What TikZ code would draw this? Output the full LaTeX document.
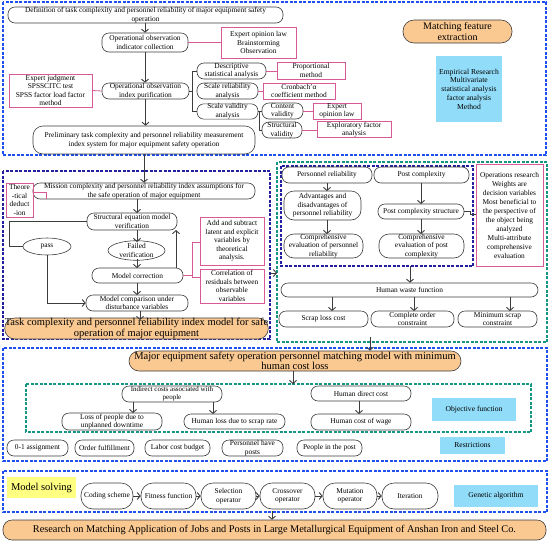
\documentclass[tikz,border=0pt]{standalone}
\usepackage{fontspec}
\setmainfont{Liberation Serif}
\usetikzlibrary{arrows.meta,shapes.geometric}
\definecolor{bl}{RGB}{30,80,240}
\definecolor{nv}{RGB}{35,30,160}
\definecolor{tl}{RGB}{20,150,130}
\definecolor{pk}{RGB}{215,90,150}
\definecolor{org}{RGB}{250,200,145}
\definecolor{cy}{RGB}{145,220,248}
\definecolor{yl}{RGB}{255,255,130}
\definecolor{ln}{RGB}{60,60,60}
\tikzset{
 sm/.style={font=\fontsize{7.4}{8.6}\selectfont},
 rnd/.style={draw=ln, line width=0.6pt, rounded corners=7pt, align=center, inner sep=0pt, sm},
 pill/.style={rnd, rounded corners=12pt},
 pbox/.style={draw=pk, line width=0.8pt, align=center, inner sep=0pt, sm},
 ell/.style={draw=ln, ellipse, line width=0.6pt, align=center, inner sep=0pt, sm},
 obox/.style={draw=ln, line width=0.6pt, fill=org, rounded corners=9pt, align=center, inner sep=0pt, font=\fontsize{10.5}{12}\selectfont},
 cbox/.style={fill=cy, align=center, inner sep=0pt, font=\fontsize{7.6}{8.7}\selectfont},
 ybox/.style={fill=yl, align=center, inner sep=0pt, font=\fontsize{10.5}{12}\selectfont},
 arr/.style={draw=ln, line width=0.9pt, -{Straight Barb[length=3pt,width=7pt]}},
 tree/.style={draw=ln, line width=0.9pt},
 plink/.style={draw=pk, line width=0.8pt},
 bdash/.style={draw=bl, line width=1.3pt, dash pattern=on 3pt off 1.5pt},
 ndash/.style={draw=nv, line width=1.3pt, dash pattern=on 3pt off 1.5pt},
 tdash/.style={draw=tl, line width=1.3pt, dash pattern=on 3pt off 1.5pt},
}
\begin{document}
\begin{tikzpicture}[x=1pt,y=-1pt]
\useasboundingbox (0,0) rectangle (550,542);
% dashed frames
\draw[bdash] (3,2) rectangle (546,155);
\draw[ndash] (3,171) rectangle (270,339);
\draw[tdash] (277,162) rectangle (547,342);
\draw[ndash] (281,166) rectangle (473,266);
\draw[bdash] (3,348) rectangle (547,461);
\draw[tdash] (26,384) rectangle (531,432);
\draw[bdash] (3,471) rectangle (547,512);

% ---- top section
\node[rnd, minimum width=275pt, minimum height=16pt] (def) at (145.5,15) {Definition of task complexity and personnel reliability of major equipment safety\\operation};
\node[rnd, minimum width=86pt, minimum height=19pt] (coll) at (145,42.5) {Operational observation\\indicator collection};
\node[pbox, minimum width=75pt, minimum height=31pt] (expop) at (258.5,42.5) {Expert opinion law\\Brainstorming\\Observation};
\node[rnd, minimum width=87pt, minimum height=16pt] (purif) at (145.5,91) {Operational observation\\index purification};
\node[pbox, minimum width=83pt, minimum height=33pt] (expj) at (50.5,90.5) {Expert judgment\\SPSSCITC test\\SPSS factor load factor\\method};
\node[rnd, minimum width=69pt, minimum height=16pt] (desc) at (231.5,71) {Descriptive\\statistical analysis};
\node[rnd, minimum width=61pt, minimum height=16pt] (srel) at (227.5,91) {Scale reliability\\analysis};
\node[rnd, minimum width=61pt, minimum height=15pt] (sval) at (227.5,111.5) {Scale validity\\analysis};
\node[pbox, minimum width=68pt, minimum height=17pt] (prop) at (311,70.5) {Proportional\\method};
\node[pbox, minimum width=72pt, minimum height=16pt] (cron) at (299,91) {Cronbach'α\\coefficient method};
\node[rnd, minimum width=41pt, minimum height=16pt] (cval) at (282.5,111) {Content\\validity};
\node[rnd, minimum width=40pt, minimum height=16pt] (stval) at (282,130) {Structural\\validity};
\node[pbox, minimum width=48pt, minimum height=16pt] (expop2) at (337,111) {Expert\\opinion law};
\node[pbox, minimum width=74pt, minimum height=15pt] (expfa) at (354,129.5) {Exploratory factor\\analysis};
\node[rnd, rounded corners=10pt, minimum width=222pt, minimum height=28pt] (prelim) at (144,140) {Preliminary task complexity and personnel reliability measurement\\index system for major equipment safety operation};
\node[obox, rounded corners=11pt, minimum width=109pt, minimum height=23pt, font=\fontsize{10}{11.5}\selectfont] (mfe) at (457.5,31.5) {Matching feature\\extraction};
\node[cbox, minimum width=66pt, minimum height=66pt] (emp) at (469,89) {Empirical Research\\Multivariate\\statistical analysis\\factor analysis\\Method};

\draw[arr] (def.south -| coll.north) -- (coll.north);
\draw[arr] (coll.south) -- (coll.south |- purif.north);
\draw[arr] (purif.south) -- (purif.south |- prelim.north);
\draw[plink] (coll.east) -- (expop.west |- coll.east);
\draw[plink] (expj.east) -- (purif.west);
\coordinate (t1) at (192,91);
\draw[tree] (purif.east) -- (t1);
\draw[tree] (desc.west) -| (192,71) |- (sval.west);
\draw[plink] (desc.east) -- (prop.west |- desc.east);
\draw[plink] (srel.east) -- (cron.west |- srel.east);
\draw[tree] (sval.east) -- (cval.west |- sval.east);
\coordinate (t2) at (259.5,111.5);
\draw[tree] (t2) |- (stval.west);
\draw[plink] (cval.east) -- (expop2.west |- cval.east);
\draw[plink] (stval.east) -- (expfa.west |- stval.east);

% ---- left middle section
\node[rnd, minimum width=222pt, minimum height=16pt] (miss) at (144,191) {Mission complexity and personnel reliability index assumptions for\\the safe operation of major equipment};
\node[pbox, minimum width=27pt, minimum height=34pt] (theo) at (19.5,200) {Theore\\-tical\\deduct\\-ion};
\node[rnd, minimum width=90pt, minimum height=17pt] (sem) at (132,221.5) {Structural equation model\\verification};
\node[ell, minimum width=57pt, minimum height=17pt] (fail) at (136.5,250.5) {Failed\\verification};
\node[rnd, minimum width=91pt, minimum height=15pt] (mcor) at (137.5,275.5) {Model correction};
\node[ell, minimum width=48pt, minimum height=17pt] (pass) at (47,246.5) {pass};
\node[rnd, minimum width=102pt, minimum height=16pt] (mcomp) at (137,303) {Model comparison under\\disturbance variables};
\node[pbox, minimum width=64pt, minimum height=48pt] (addsub) at (232,241) {Add and subtract\\latent and explicit\\variables by\\theoretical\\analysis.};
\node[pbox, minimum width=64pt, minimum height=34pt] (corr) at (232,286) {Correlation of\\residuals between\\observable\\variables};
\node[obox, rounded corners=10pt, minimum width=263pt, minimum height=21pt, font=\fontsize{10.5}{10.5}\selectfont] (tcm) at (136.5,328.5) {Task complexity and personnel reliability index model for safe\\operation of major equipment};

\draw[arr] (prelim.south) -- (prelim.south |- miss.north);
\draw[arr] (137,199) -- (137,213);
\draw[arr] (137,230) -- (137,242);
\draw[arr] (137,259) -- (137,268);
\draw[arr] (176,268) -- (176,230);
\draw[arr] (137,283) -- (137,295);
\draw[arr] (140,311) -- (140,320);
\draw[tree] (sem.west) -- (9,221.5) -- (9,246.5) -- (pass.west);
\draw[arr] (pass.south) |- (mcomp.west);
\draw[plink] (theo.east |- 0,192) -- (46,192) -- (46,199);
\draw[plink] (mcor.east) -- (192,275.5);
\draw[plink] (addsub.west |- 0,242) -- (192,242) -- (192,277) -- (corr.west |- 0,277);

% connector left -> right box
\coordinate (lb) at (270,273);
\coordinate (rb) at (277,273);
\draw[arr] (lb) -- (rb);

% ---- right middle section
\node[rnd, minimum width=90pt, minimum height=16pt] (pr) at (327,175) {Personnel reliability};
\node[rnd, minimum width=95pt, minimum height=16pt] (pc) at (421.5,175) {Post complexity};
\node[rnd, rounded corners=10pt, minimum width=77pt, minimum height=29pt] (adv) at (322.5,205.5) {Advantages and\\disadvantages of\\personnel reliability};
\node[rnd, rounded corners=10pt, minimum width=79pt, minimum height=24pt] (cep) at (323.5,246) {Comprehensive\\evaluation of personnel\\reliability};
\node[rnd, minimum width=86pt, minimum height=15pt] (pcs) at (421,211.5) {Post complexity structure};
\node[rnd, rounded corners=10pt, minimum width=85pt, minimum height=24pt] (cepc) at (421.5,246) {Comprehensive\\evaluation of post\\complexity};
\node[pbox, minimum width=67pt, minimum height=102pt, font=\fontsize{7.4}{9}\selectfont] (ops) at (509.5,215) {Operations research\\Weights are\\decision variables\\Most beneficial to\\the perspective of\\the object being\\analyzed\\Multi-attribute\\comprehensive\\evaluation};
\node[rnd, minimum width=257pt, minimum height=14pt] (hwf) at (409.5,290) {Human waste function};
\node[rnd, minimum width=89pt, minimum height=16pt] (slc) at (323.5,319) {Scrap loss cost};
\node[rnd, minimum width=83pt, minimum height=16pt] (coc) at (412.5,319) {Complete order\\constraint};
\node[rnd, minimum width=79pt, minimum height=16pt] (msc) at (497.5,319) {Minimum scrap\\constraint};

\draw[arr] (327,183) -- (327,191);
\draw[arr] (327,220) -- (327,234);
\draw[arr] (421,183) -- (421,204);
\draw[arr] (421,219) -- (421,234);
\draw[tree, line width=0.7pt] (pcs.east) -- (470,211.5) -- (470,214) -- (ops.west |- 0,214);
\coordinate (nb) at (410,266);
\draw[arr] (nb) -- (nb |- hwf.north);
\draw[arr] (332,297) -- (332,311);
\draw[arr] (414,297) -- (414,311);
\draw[arr] (510,297) -- (510,311);

% ---- lower section
\node[obox, rounded corners=10pt, minimum width=332pt, minimum height=20pt, font=\fontsize{10.5}{10.5}\selectfont] (mem) at (295,361) {Major equipment safety operation personnel matching model with minimum\\human cost loss};
\coordinate (tb) at (370,337);
\draw[arr] (tb) -- (tb |- mem.north);
\node[rnd, minimum width=100pt, minimum height=16pt, font=\fontsize{7}{8}\selectfont] (ica) at (172,394) {Indirect costs associated with\\people};
\node[rnd, minimum width=100pt, minimum height=17pt] (lpd) at (112,421.5) {Loss of people due to\\unplanned downtime};
\node[rnd, minimum width=101pt, minimum height=15pt] (hls) at (234.5,421.5) {Human loss due to scrap rate};
\node[rnd, minimum width=100pt, minimum height=15pt] (hdc) at (361,393.5) {Human direct cost};
\node[rnd, minimum width=100pt, minimum height=16pt] (hcw) at (361,422) {Human cost of wage};
\node[cbox, minimum width=84pt, minimum height=23pt] (objf) at (474,409.5) {Objective function};
\coordinate (ob) at (293,384);
\draw[arr] (mem.south -| ob) -- (ob);
\draw[arr] (133,402) -- (133,413);
\draw[arr] (213,402) -- (213,414);
\draw[arr] (359,401) -- (359,414);

\node[rnd, minimum width=61pt, minimum height=16pt] (r1) at (37.5,448) {0-1 assignment};
\node[rnd, minimum width=59pt, minimum height=16pt] (r2) at (104.5,448) {Order fulfillment};
\node[rnd, minimum width=65pt, minimum height=16pt] (r3) at (177.5,448) {Labor cost budget};
\node[rnd, minimum width=61pt, minimum height=16pt] (r4) at (252.5,448) {Personnel have\\posts};
\node[rnd, minimum width=65pt, minimum height=16pt] (r5) at (329.5,448) {People in the post};
\node[cbox, minimum width=65pt, minimum height=17pt] (restr) at (472.5,445.5) {Restrictions};

% ---- model solving
\node[ybox, minimum width=69pt, minimum height=21pt] (ms) at (41.5,487.5) {Model solving};
\node[pill, minimum width=52pt, minimum height=26pt] (g1) at (107,496) {Coding scheme};
\node[pill, minimum width=55pt, minimum height=26pt] (g2) at (168.5,496) {Fitness function};
\node[pill, minimum width=55pt, minimum height=26pt] (g3) at (228.5,496) {Selection\\operator};
\node[pill, minimum width=55pt, minimum height=26pt] (g4) at (287.5,496) {Crossover\\operator};
\node[pill, minimum width=54pt, minimum height=26pt] (g5) at (350,496) {Mutation\\operator};
\node[pill, minimum width=56pt, minimum height=26pt] (g6) at (410,496) {Iteration};
\node[cbox, minimum width=84pt, minimum height=22pt] (ga) at (496,496) {Genetic algorithm};
\draw[arr] (g1) -- (g2);
\draw[arr] (g2) -- (g3);
\draw[arr] (g3) -- (g4);
\draw[arr] (g4) -- (g5);
\draw[arr] (g5) -- (g6);

\node[obox, minimum width=543pt, minimum height=20pt, font=\fontsize{10.3}{12}\selectfont] (fin) at (274.5,530) {Research on Matching Application of Jobs and Posts in Large Metallurgical Equipment of Anshan Iron and Steel Co.};
\coordinate (sb) at (272,511);
\draw[arr] (sb) -- (sb |- fin.north);
\end{tikzpicture}
\end{document}
